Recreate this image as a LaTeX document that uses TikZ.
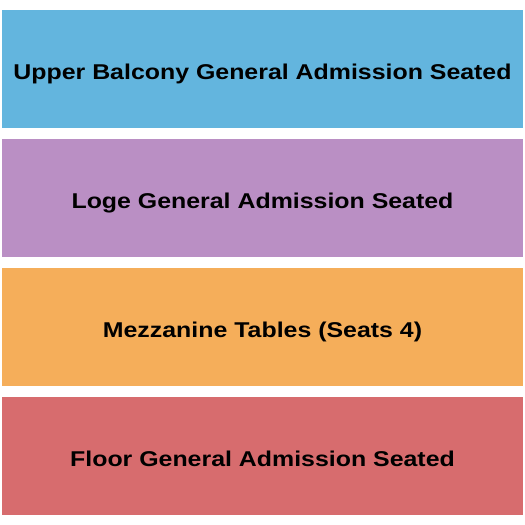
\documentclass[tikz,border=0pt]{standalone}
\usepackage{fontspec}
\setmainfont{Liberation Sans}
\definecolor{cblue}{HTML}{63B5DE}
\definecolor{cpurple}{HTML}{BA8FC4}
\definecolor{corange}{HTML}{F5AE5A}
\definecolor{cred}{HTML}{D76C6E}
\newcommand{\sqz}[1]{\scalebox{1}[0.86]{#1}}
\begin{document}
\begin{tikzpicture}[x=1pt,y=1pt,
  section/.style={minimum width=521pt,minimum height=118pt,inner sep=0pt,draw=none,anchor=center},
  lbl/.style={font=\fontsize{24.9}{29}\selectfont\bfseries,text=black,inner sep=0pt,anchor=base,yshift=-10.5pt}]
\useasboundingbox (0,0) rectangle (525,525);
\fill[white] (0,0) rectangle (525,525);
\node[section,fill=cblue] (upper) at (262.5,456) {};
\node[section,fill=cpurple] (loge) at (262.5,327) {};
\node[section,fill=corange] (mezz) at (262.5,198) {};
\node[section,fill=cred] (floor) at (262.5,69) {};
\node[lbl] (tupper) at (upper.center) {\sqz{Upper Balcony General Admission Seated}};
\node[lbl] (tloge) at (loge.center) {\sqz{Loge General Admission Seated}};
\node[lbl] (tmezz) at (mezz.center) {\sqz{Mezzanine Tables (Seats 4)}};
\node[lbl] (tfloor) at (floor.center) {\sqz{Floor General Admission Seated}};
\end{tikzpicture}
\end{document}
